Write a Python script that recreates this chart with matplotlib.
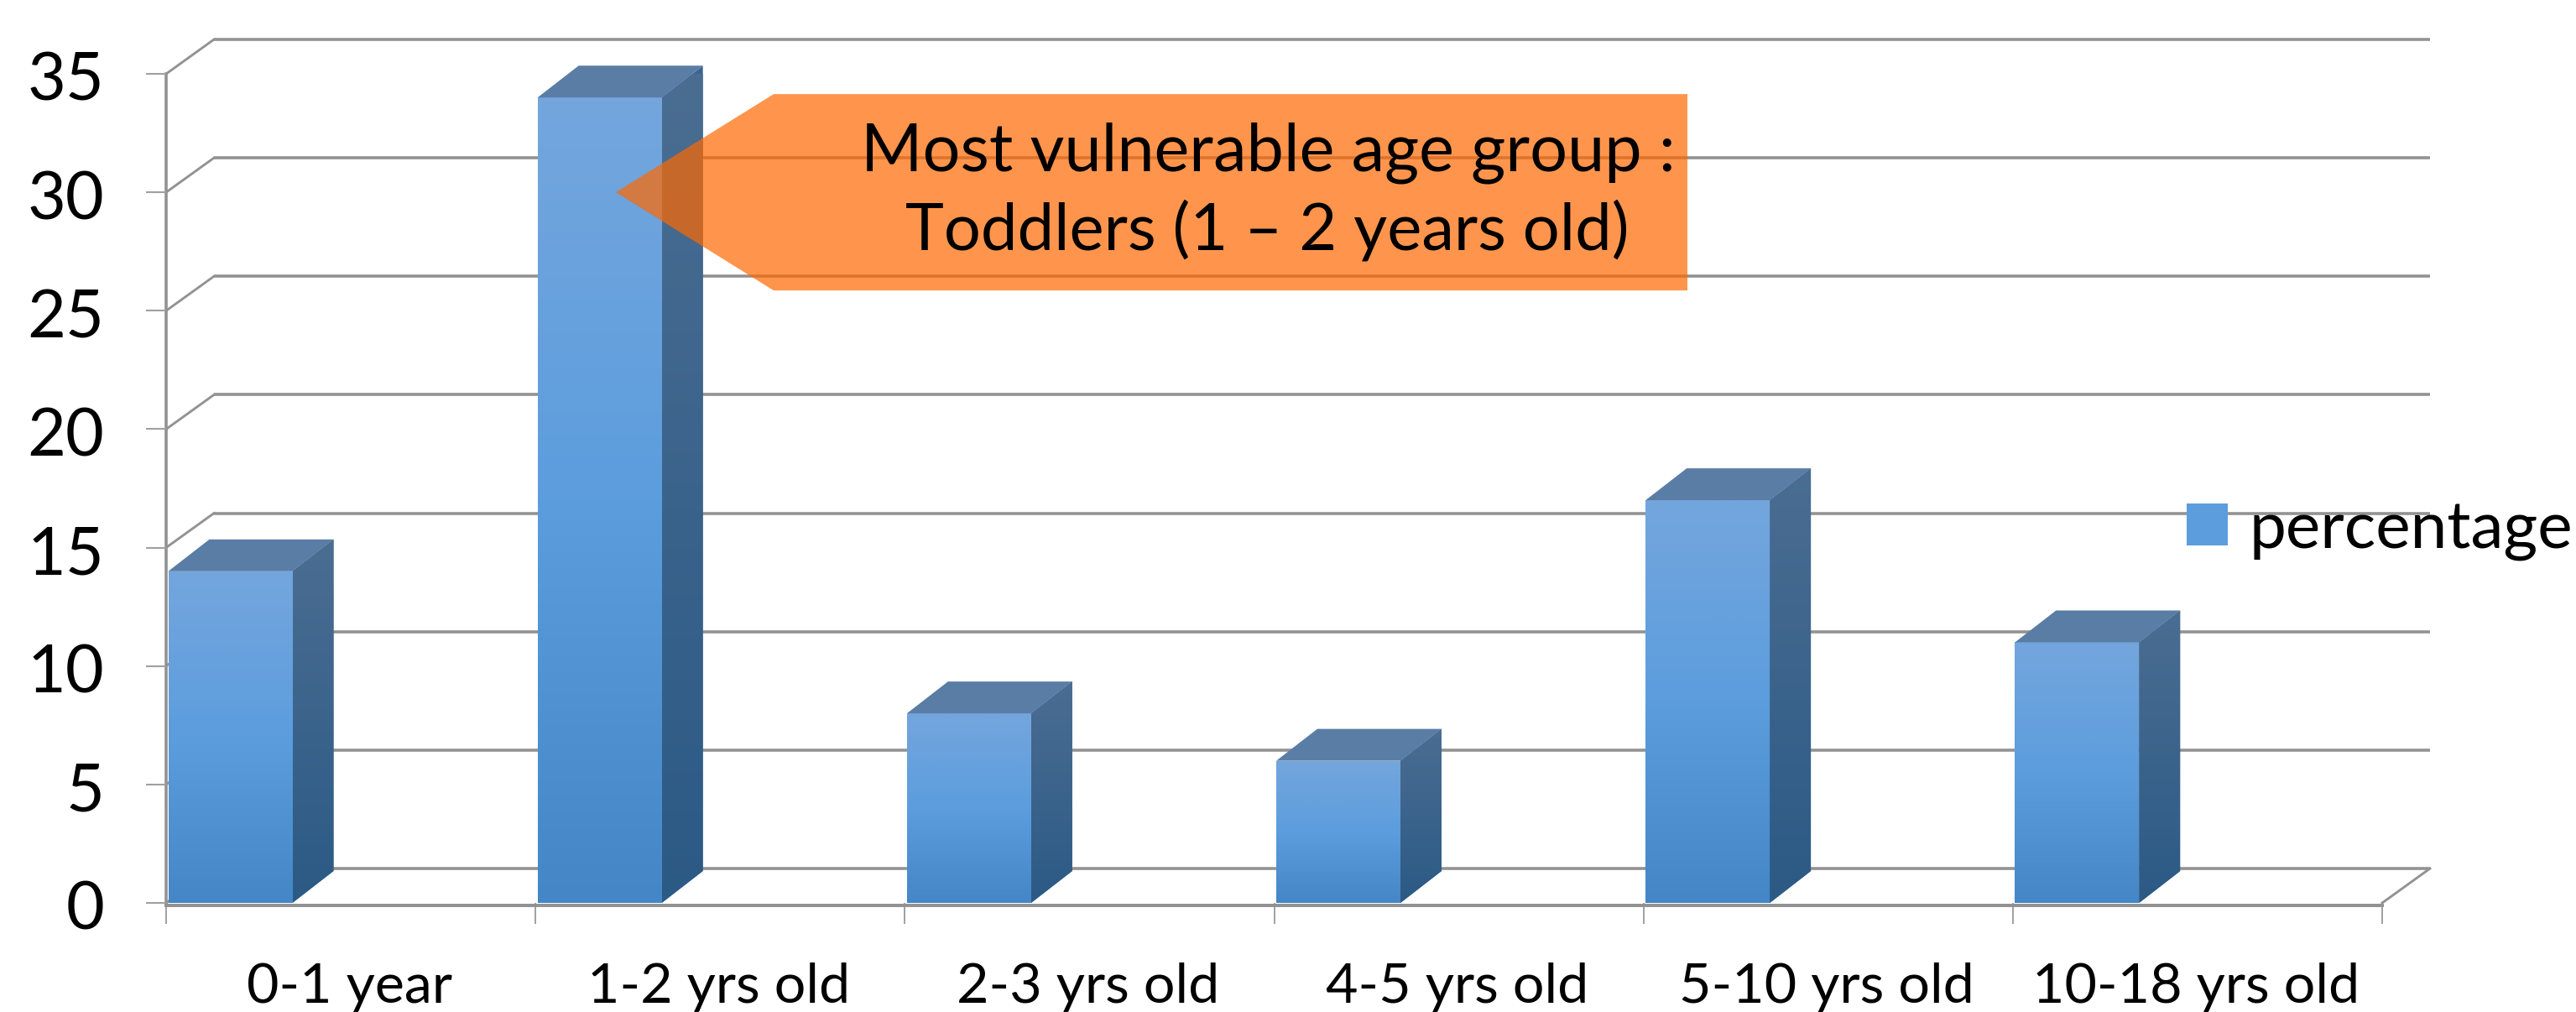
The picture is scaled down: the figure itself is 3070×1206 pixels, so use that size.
import numpy as np
import matplotlib
matplotlib.use("Agg")
import matplotlib.pyplot as plt
from matplotlib.colors import LinearSegmentedColormap
from matplotlib.patches import Polygon
from matplotlib.transforms import ScaledTranslation

# ---- data ----
categories = ["0-1 year", "1-2 yrs old", "2-3 yrs old", "4-5 yrs old", "5-10 yrs old", "10-18 yrs old"]
percentage = [14, 34, 8, 6, 17, 11]
y_ticks = [0, 5, 10, 15, 20, 25, 30, 35]
series_name = "percentage"
callout_lines = ["Most vulnerable age group :", "Toddlers (1 \u2013 2 years old)"]
callout_value = 30

W, H = 3070, 1206
plt.rcParams["font.family"] = ["Lato", "DejaVu Sans"]
fig = plt.figure(figsize=(W / 100, H / 100), dpi=100)
AX_L, AX_R, Y0, Y35 = 198, 2839, 1076, 88
ax = fig.add_axes([AX_L / W, 1 - Y0 / H, (AX_R - AX_L) / W, (Y0 - Y35) / H])
ax.set_xlim(0, len(categories))
ax.set_ylim(0, 35)
ax.patch.set_visible(False)
for s in ax.spines.values():
    s.set_visible(False)

ux = (AX_R - AX_L) / len(categories)   # px per category
uy = (Y0 - Y35) / 35                   # px per value
wall_dx, wall_dy = 57 / ux, 41 / uy
bar_dx, bar_dy = 49 / ux, 38 / uy
bar_w = 148 / ux
bar_off = 2.5 / ux
GRID = "#929292"
LW = 2.6

# walls: gridlines and diagonals
for v in y_ticks:
    ax.plot([wall_dx, len(categories) + wall_dx], [v + wall_dy] * 2, color=GRID, lw=LW,
            clip_on=False, zorder=1, solid_capstyle="butt")
    ax.plot([0, wall_dx], [v, v + wall_dy], color=GRID, lw=LW * 0.8, clip_on=False, zorder=1)
ax.plot([0, 0], [0, 35], color=GRID, lw=LW, clip_on=False, zorder=1.5)
ax.plot([0, len(categories)], [-0.1, -0.1], color=GRID, lw=LW * 1.1, clip_on=False, zorder=1.5)
ax.plot([len(categories), len(categories) + wall_dx], [0, wall_dy], color=GRID, lw=LW * 0.8,
        clip_on=False, zorder=1)

# axis ticks
ax.set_yticks(y_ticks)
ax.set_xticks(range(len(categories) + 1))
ax.set_xticklabels([])
ax.tick_params(axis="y", length=17, width=1.5, color="#a0a0a0", labelsize=57, pad=36)
ax.tick_params(axis="x", length=18, width=1.2, color="#909090")
shift = ScaledTranslation(0, -3 / 100, fig.dpi_scale_trans)
for lab in ax.get_yticklabels():
    lab.set_transform(lab.get_transform() + shift)
for i, c in enumerate(categories):
    ax.annotate(c, (i + 0.5, 0), xytext=(-2, -100), textcoords="offset pixels",
                ha="center", va="center", fontsize=47.8, color="black", annotation_clip=False)

# bars
front_cmap = LinearSegmentedColormap.from_list("front", ["#74A6DD", "#5C9DDD", "#4486C6"])
side_cmap = LinearSegmentedColormap.from_list("side", ["#4B6D92", "#2B5A85"])
grad = np.linspace(0, 1, 256).reshape(-1, 1)
for i, v in enumerate(percentage):
    x0 = i + bar_off
    x1 = x0 + bar_w
    bar = ax.bar(x0, v, width=bar_w, align="edge", color="#5C9DDD", zorder=3, clip_on=False)[0]
    im = ax.imshow(grad, cmap=front_cmap, extent=(x0, x1, 0, v), aspect="auto", zorder=3.1,
                   interpolation="bilinear")
    im.set_clip_path(bar)
    side = Polygon([(x1, 0), (x1 + bar_dx, bar_dy), (x1 + bar_dx, v + bar_dy), (x1, v)],
                   closed=True, facecolor="#3A6590", edgecolor="none", zorder=3, clip_on=False)
    ax.add_patch(side)
    im2 = ax.imshow(grad, cmap=side_cmap, extent=(x1, x1 + bar_dx, 0, v + bar_dy), aspect="auto",
                    zorder=3.1, interpolation="bilinear", clip_on=True)
    im2.set_clip_path(side)
    ax.add_patch(Polygon([(x0, v), (x1, v), (x1 + bar_dx, v + bar_dy), (x0 + bar_dx, v + bar_dy)],
                         closed=True, facecolor="#5A7DA6", edgecolor="none", zorder=3.2, clip_on=False))
ax.set_xlim(0, len(categories))
ax.set_ylim(0, 35)

# callout (arrow pointing at the 1-2 yrs bar), in data coordinates
tip_x = 1 + (734 - AX_L - ux) / ux
sh_x = tip_x + 188 / ux
end_x = tip_x + 1277 / ux
half = 117 / uy
callout = Polygon([(tip_x, callout_value), (sh_x, callout_value + half), (end_x, callout_value + half),
                   (end_x, callout_value - half), (sh_x, callout_value - half)],
                  closed=True, facecolor="#FF6800", alpha=0.7, edgecolor="none", zorder=5, clip_on=False)
ax.add_patch(callout)
ax.text(end_x - 500 / ux, callout_value + 47 / uy, callout_lines[0], ha="center", va="center", fontsize=57,
        color="black", zorder=6)
ax.text(end_x - 501 / ux, callout_value - 45 / uy, callout_lines[1], ha="center", va="center", fontsize=56,
        color="black", zorder=6)

# legend
leg = fig.legend(handles=[plt.Rectangle((0, 0), 1, 1, facecolor="#5C9DDD")], labels=[series_name],
                 loc="center left", bbox_to_anchor=(2606 / W, 1 - 632 / H), frameon=False,
                 fontsize=56.5, handlelength=0.624, handleheight=0.61, handletextpad=0.32,
                 borderpad=0, borderaxespad=0)
fig.canvas.draw()
bb = leg.legend_handles[0].get_window_extent()
lax = fig.add_axes([bb.x0 / W, bb.y0 / H, bb.width / W, bb.height / H])
lax.imshow(grad, cmap=front_cmap, aspect="auto", interpolation="bilinear")
lax.axis("off")
fig.savefig("out.png", dpi=100, facecolor="white")
